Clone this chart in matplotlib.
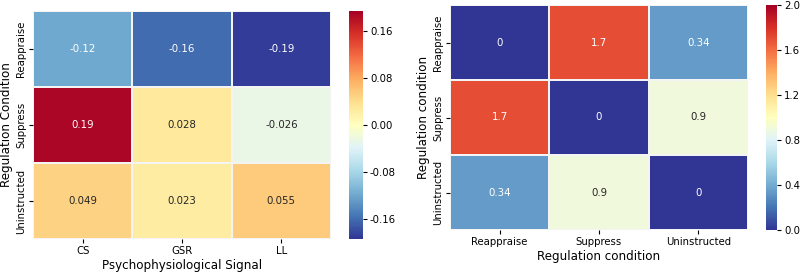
import matplotlib
matplotlib.use('Agg')
import matplotlib.pyplot as plt
import numpy as np
import seaborn as sns

# left panel: correlation per regulation condition and signal
conditions = ['Reappraise', 'Suppress', 'Uninstructed']
signals = ['CS', 'GSR', 'LL']
corr_vals = np.array([[-0.12, -0.16, -0.19],
                      [0.19, 0.028, -0.026],
                      [0.049, 0.023, 0.055]])

# right panel: distance between regulation conditions
dist_vals = np.array([[0, 1.7, 0.34],
                      [1.7, 0, 0.9],
                      [0.34, 0.9, 0]])

left_ticks = [-0.16, -0.08, 0.0, 0.08, 0.16]
right_ticks = [0.0, 0.4, 0.8, 1.2, 1.6, 2.0]

W, H = 800, 274
fig = plt.figure(figsize=(8, 2.74), dpi=100)

ax1 = fig.add_axes([33 / W, (H - 239) / H, 298 / W, 228 / H])
cax1 = fig.add_axes([349 / W, (H - 239) / H, 14 / W, 228 / H])
ax2 = fig.add_axes([450 / W, (H - 230) / H, 298 / W, 225 / H])
cax2 = fig.add_axes([766 / W, (H - 230) / H, 11 / W, 225 / H])

tick_fs = 7.3
lab_fs = 8.6
ann_fs = 7.4

sns.heatmap(corr_vals, ax=ax1, cbar_ax=cax1, cmap='RdYlBu_r',
            vmin=-0.195, vmax=0.195, annot=True, fmt='.2g',
            annot_kws={'fontsize': ann_fs}, linewidths=0.15, linecolor='#f4f4f4',
            xticklabels=signals, yticklabels=conditions,
            cbar_kws={'ticks': left_ticks, 'format': '%.2f'})
ax1.set_xlabel('Psychophysiological Signal', fontsize=lab_fs, labelpad=2)
ax1.set_ylabel('Regulation Condition', fontsize=lab_fs, labelpad=2)
ax1.tick_params(labelsize=tick_fs, pad=2, length=3)
plt.setp(ax1.get_yticklabels(), rotation=90, va='center')
cax1.tick_params(labelsize=tick_fs, pad=2, length=3)

sns.heatmap(dist_vals, ax=ax2, cbar_ax=cax2, cmap='RdYlBu_r',
            vmin=0, vmax=2.0, annot=True, fmt='.2g',
            annot_kws={'fontsize': ann_fs}, linewidths=0.15, linecolor='#f4f4f4',
            xticklabels=conditions, yticklabels=conditions,
            cbar_kws={'ticks': right_ticks, 'format': '%.1f'})
ax2.set_xlabel('Regulation condition', fontsize=lab_fs, labelpad=2)
ax2.set_ylabel('Regulation condition', fontsize=lab_fs, labelpad=2)
ax2.tick_params(labelsize=tick_fs, pad=2, length=3)
plt.setp(ax2.get_yticklabels(), rotation=90, va='center')
cax2.tick_params(labelsize=tick_fs, pad=2, length=3)

fig.savefig('out.png', dpi=100)
